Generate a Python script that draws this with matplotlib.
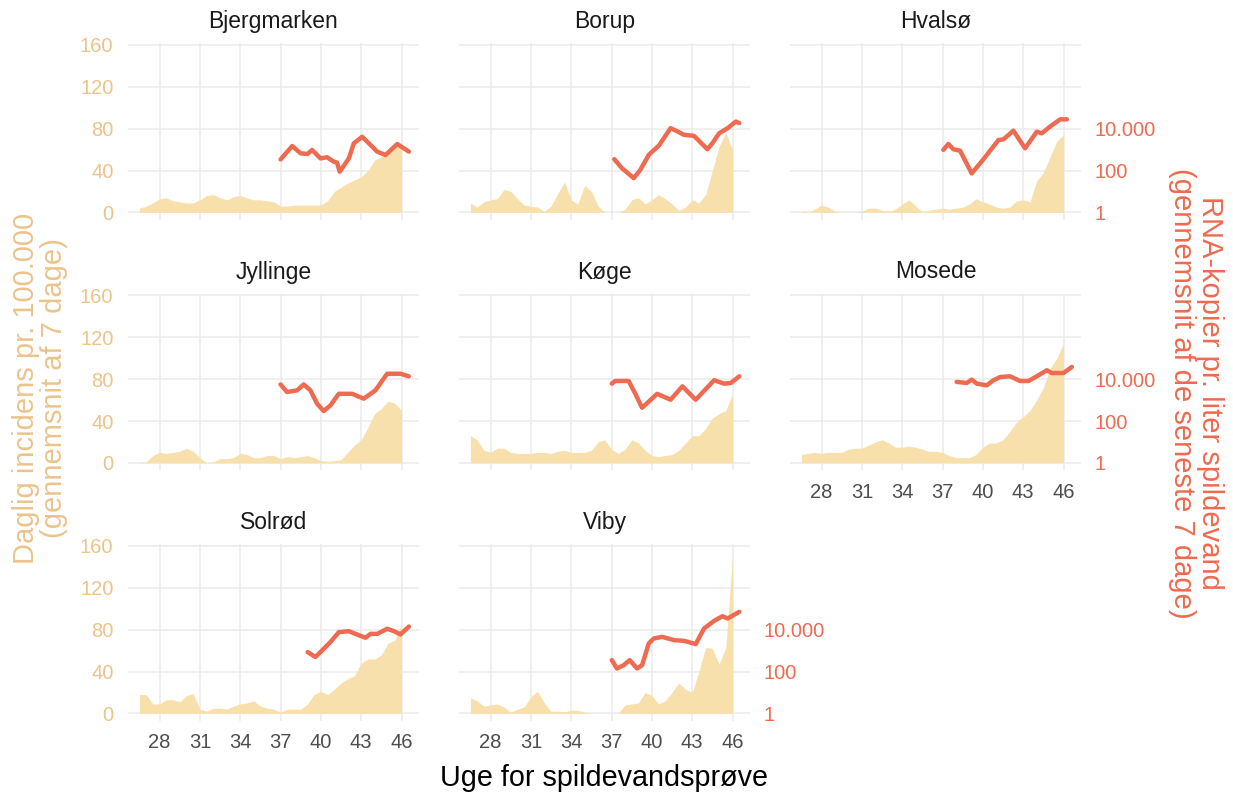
import numpy as np
import matplotlib
matplotlib.use("Agg")
import matplotlib.pyplot as plt
from matplotlib.ticker import FixedLocator, NullLocator

plt.rcParams['font.family'] = ['Liberation Sans', 'DejaVu Sans']

# incidence (7 day avg per 100.000), every half week from week 26.5 to 46
weeks = np.arange(26.5, 46.01, 0.5)

bjergmarken_inc = [4, 6, 9, 13, 14, 11, 10, 9, 9, 12, 16, 17, 14, 12, 15, 16, 14, 12, 12, 11,
                   10, 6, 6, 7, 7, 7, 7, 7, 11, 20, 24, 28, 31, 34, 40, 50, 53, 60, 66, 63]
borup_inc = [9, 5, 10, 12, 13, 22, 20, 13, 7, 6, 5, 1, 6, 18, 29, 12, 8, 26, 20, 6,
             0, 0, 0, 3, 12, 14, 8, 12, 17, 13, 8, 2, 5, 12, 9, 17, 40, 63, 76, 60]
hvalsoe_inc = [1.5, 0.5, 3, 7, 5, 1, 0, 0, 0, 1, 4, 4, 2, 1, 3, 8, 12, 6, 0.5, 2,
               3, 4, 3, 4, 5, 8, 13, 10, 8, 5, 4, 5, 11, 12, 10, 30, 38, 53, 68, 74]
jyllinge_inc = [0, 1, 7, 10, 9, 10, 11, 14, 11, 5, 0, 1, 4, 4, 5, 9, 8, 5, 5, 7,
                7, 4, 6, 5, 6, 7, 5, 2, 1.5, 2, 3, 10, 17, 22, 34, 47, 52, 59, 57, 50]
koege_inc = [26, 22, 12, 10, 14, 14, 10, 9, 9, 9, 10, 10, 9, 11, 12, 10, 10, 10, 12, 20,
             22, 13, 9, 13, 22, 19, 12, 7, 6, 7, 8, 12, 19, 26, 26, 33, 43, 47, 50, 66]
mosede_inc = [8, 9, 10, 9, 10, 10, 10, 13, 14, 14, 17, 20, 22, 19, 15, 15, 16, 15, 13, 11,
              11, 10, 7, 5, 5, 5, 8, 15, 19, 19, 22, 30, 39, 44, 50, 60, 72, 90, 100, 114]
solroed_inc = [18, 18, 9, 9, 13, 13, 11, 17, 19, 4, 2, 5, 5, 4, 7, 9, 10, 12, 7, 5,
               4, 1, 4, 4, 4, 9, 18, 21, 18, 23, 29, 33, 36, 48, 52, 52, 56, 67, 70, 85]
viby_inc = [15, 12, 7, 8, 9, 6, 1, 4, 6, 16, 21, 10, 2, 2, 1.5, 3, 3, 1, 0, 0,
            0, 0, 0, 8, 9, 10, 20, 17, 9, 12, 20, 29, 23, 20, 40, 63, 62, 47, 63, 150]

# RNA copies per litre wastewater (7 day avg)
bjergmarken_rna_wk = [37.0, 37.87, 38.5, 39.0, 39.35, 39.97, 40.46, 40.96, 41.2, 41.4, 42.08,
                      42.45, 43.07, 43.57, 44.19, 44.81, 45.68, 46.55]
bjergmarken_rna = [340, 1480, 660, 620, 955, 380, 430, 265, 240, 88, 380,
                   2000, 4100, 2000, 800, 550, 1850, 800]
borup_rna_wk = [37.2, 37.77, 38.65, 39.14, 39.77, 40.52, 41.39, 41.76, 42.38, 43.13, 44.13,
                44.5, 45.0, 45.63, 46.25, 46.5]
borup_rna = [350, 130, 43, 107, 560, 1560, 10500, 8200, 5100, 4550, 1040,
             2000, 6000, 10500, 22000, 18500]
hvalsoe_rna_wk = [37.06, 37.43, 37.8, 38.3, 39.17, 40.04, 41.16, 41.53, 42.27, 43.14, 44.01,
                  44.38, 45.0, 45.75, 46.25]
hvalsoe_rna = [970, 1860, 1040, 890, 73, 343, 2880, 3100, 8000, 1150, 7200,
               6000, 12600, 28000, 28000]
jyllinge_rna_wk = [37.0, 37.48, 38.23, 38.72, 39.22, 39.72, 40.21, 40.71, 41.33, 42.32, 43.19,
                   44.06, 44.93, 45.92, 46.54]
jyllinge_rna = [5600, 2430, 2930, 5600, 2930, 670, 300, 560, 2000, 2000, 1170,
                2930, 18200, 18200, 13700]
koege_rna_wk = [37.02, 37.27, 38.27, 38.77, 39.27, 40.39, 41.39, 42.27, 43.26, 44.63, 45.38,
                45.88, 46.5]
koege_rna = [6100, 8200, 8200, 2000, 430, 2000, 1040, 4550, 1040, 8900, 6100,
             6600, 13700]
mosede_rna_wk = [38.05, 38.8, 39.17, 39.55, 40.29, 40.79, 41.29, 42.03, 42.77, 43.39, 44.01,
                 44.76, 45.13, 46.0, 46.62]
mosede_rna = [7400, 6600, 9500, 6100, 5100, 8900, 12700, 13700, 8200, 8200, 13700,
              26600, 19700, 19700, 38500]
solroed_rna_wk = [39.02, 39.59, 40.09, 40.71, 41.33, 42.08, 42.57, 43.32, 43.69, 44.19, 44.93,
                  45.43, 45.92, 46.55]
solroed_rna = [850, 495, 1020, 2560, 7600, 8500, 6300, 4100, 6300, 6300, 11000,
               8500, 5900, 14100]
viby_rna_wk = [37.02, 37.4, 37.9, 38.35, 38.9, 39.27, 39.77, 40.14, 40.77, 41.64, 42.39,
               43.26, 43.88, 44.63, 45.25, 45.63, 46.5]
viby_rna = [350, 140, 200, 350, 140, 200, 2200, 3800, 4550, 3160, 2930,
            2040, 11400, 26300, 44000, 34000, 71000]

panels = [
    ("Bjergmarken", bjergmarken_inc, bjergmarken_rna_wk, bjergmarken_rna),
    ("Borup", borup_inc, borup_rna_wk, borup_rna),
    ("Hvalsø", hvalsoe_inc, hvalsoe_rna_wk, hvalsoe_rna),
    ("Jyllinge", jyllinge_inc, jyllinge_rna_wk, jyllinge_rna),
    ("Køge", koege_inc, koege_rna_wk, koege_rna),
    ("Mosede", mosede_inc, mosede_rna_wk, mosede_rna),
    ("Solrød", solroed_inc, solroed_rna_wk, solroed_rna),
    ("Viby", viby_inc, viby_rna_wk, viby_rna),
]

AREA = '#F8E0AD'
AREA_TXT = '#EBC48C'
RED = '#EE6A50'
GRID = '#EBEBEB'
YLO, YHI = -7.3, 161.9

W, H = 1233, 794
fig = plt.figure(figsize=(W / 100, H / 100), dpi=100)

for i, (name, inc, rwk, rna) in enumerate(panels):
    r, c = divmod(i, 3)
    left = 128 + c * 331
    top = 43 + r * 250.5
    ax = fig.add_axes([left / W, 1 - (top + 177) / H, 291 / W, 177 / H])
    ax.fill_between(weeks, inc, 0, color=AREA, lw=0)
    ax.set_xlim(25.65, 47.3)
    ax.set_ylim(YLO, YHI)
    ax.set_xticks(range(28, 47, 3))
    ax.set_yticks(range(0, 161, 40))
    ax.grid(True, color=GRID, lw=1.1)
    ax.set_axisbelow(True)
    for s in ax.spines.values():
        s.set_visible(False)
    ax.tick_params(length=0, labelsize=14.5)
    ax.tick_params(axis='x', pad=9, labelcolor='#4D4D4D', labelbottom=i in (5, 6, 7))
    ax.tick_params(axis='y', pad=10.5, labelcolor=AREA_TXT, labelleft=(c == 0))
    ax.set_title(name, fontsize=16.5, color='#1A1A1A', pad=10.8)

    ax2 = ax.twinx()
    ax2.set_yscale('log')
    ax2.set_ylim(10 ** (YLO / 20), 10 ** (YHI / 20))
    ax2.plot(rwk, rna, color=RED, lw=3.2, solid_capstyle='round', solid_joinstyle='round')
    ax2.yaxis.set_major_locator(FixedLocator([1, 100, 10000]))
    ax2.yaxis.set_minor_locator(NullLocator())
    ax2.set_yticklabels(['1', '100', '10.000'])
    ax2.tick_params(length=0, labelsize=14.5, pad=10, labelcolor=RED,
                    labelright=i in (2, 5, 7))
    for s in ax2.spines.values():
        s.set_visible(False)

fig.text(604 / W, 1 - 786 / H, "Uge for spildevandsprøve", ha='center', va='baseline',
         fontsize=20.7, color='black')
fig.text(40 / W, 1 - 388 / H, "Daglig incidens pr. 100.000\n(gennemsnit af 7 dage)",
         rotation=90, ha='center', va='center', fontsize=21, color=AREA_TXT,
         linespacing=1.0)
fig.text(1196 / W, 1 - 393 / H, "RNA-kopier pr. liter spildevand\n(gennemsnit af de seneste 7 dage)",
         rotation=270, ha='center', va='center', fontsize=21, color=RED,
         linespacing=1.0)

fig.savefig("out.png", dpi=100)
